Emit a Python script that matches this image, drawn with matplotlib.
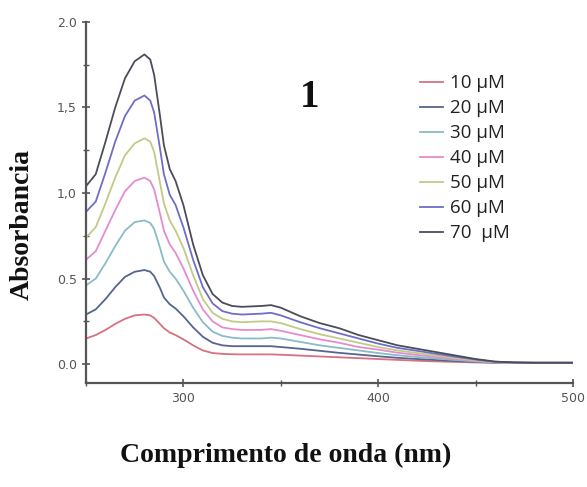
import matplotlib
matplotlib.use("Agg")
import matplotlib.pyplot as plt
from matplotlib.ticker import FixedLocator, MultipleLocator

# Wavelength grid (nm)
wavelength = [250, 255, 260, 265, 270, 275, 280, 283, 285, 288, 290, 293, 296, 300,
              305, 310, 315, 320, 325, 330, 340, 345, 350, 360, 370, 380, 390, 400,
              410, 420, 430, 440, 450, 460, 470, 480, 490, 500]

# Absorbance spectra for each concentration
abs_10 = [0.15, 0.17, 0.20, 0.235, 0.265, 0.285, 0.29, 0.285, 0.27, 0.235, 0.21, 0.185,
          0.17, 0.145, 0.11, 0.08, 0.065, 0.06, 0.058, 0.057, 0.057, 0.057, 0.055, 0.05,
          0.045, 0.04, 0.035, 0.03, 0.025, 0.02, 0.016, 0.013, 0.01, 0.008, 0.008, 0.008,
          0.008, 0.008]
abs_20 = [0.29, 0.32, 0.38, 0.45, 0.51, 0.54, 0.55, 0.54, 0.515, 0.445, 0.39, 0.35,
          0.325, 0.28, 0.215, 0.16, 0.125, 0.11, 0.105, 0.105, 0.105, 0.105, 0.10, 0.09,
          0.078, 0.066, 0.056, 0.046, 0.037, 0.03, 0.024, 0.018, 0.013, 0.009, 0.008,
          0.008, 0.008, 0.008]
abs_30 = [0.46, 0.50, 0.59, 0.69, 0.78, 0.83, 0.84, 0.825, 0.79, 0.68, 0.60, 0.54,
          0.50, 0.43, 0.33, 0.245, 0.19, 0.165, 0.155, 0.15, 0.15, 0.155, 0.15, 0.13,
          0.11, 0.095, 0.08, 0.065, 0.052, 0.042, 0.033, 0.024, 0.016, 0.01, 0.008,
          0.008, 0.008, 0.008]
abs_40 = [0.61, 0.66, 0.78, 0.90, 1.01, 1.07, 1.09, 1.07, 1.02, 0.88, 0.78, 0.70,
          0.65, 0.56, 0.43, 0.32, 0.25, 0.215, 0.205, 0.20, 0.20, 0.205, 0.195, 0.17,
          0.145, 0.125, 0.10, 0.085, 0.067, 0.054, 0.042, 0.03, 0.02, 0.011, 0.008,
          0.008, 0.008, 0.008]
abs_50 = [0.74, 0.80, 0.94, 1.09, 1.22, 1.29, 1.32, 1.30, 1.24, 1.06, 0.94, 0.84,
          0.78, 0.68, 0.52, 0.38, 0.30, 0.265, 0.25, 0.245, 0.25, 0.25, 0.24, 0.205,
          0.175, 0.15, 0.125, 0.10, 0.08, 0.065, 0.05, 0.036, 0.023, 0.012, 0.009,
          0.008, 0.008, 0.008]
abs_60 = [0.89, 0.95, 1.12, 1.30, 1.45, 1.54, 1.57, 1.54, 1.47, 1.26, 1.11, 0.99,
          0.93, 0.80, 0.61, 0.45, 0.355, 0.31, 0.295, 0.29, 0.295, 0.30, 0.285, 0.245,
          0.21, 0.18, 0.15, 0.12, 0.095, 0.078, 0.06, 0.043, 0.027, 0.014, 0.01,
          0.008, 0.008, 0.008]
abs_70 = [1.04, 1.11, 1.30, 1.50, 1.67, 1.77, 1.81, 1.78, 1.69, 1.45, 1.28, 1.14,
          1.07, 0.93, 0.70, 0.52, 0.41, 0.36, 0.34, 0.335, 0.34, 0.345, 0.33, 0.28,
          0.24, 0.21, 0.17, 0.14, 0.11, 0.09, 0.07, 0.05, 0.03, 0.015, 0.01, 0.008,
          0.008, 0.008]

series_labels = ["10 μM", "20 μM", "30 μM", "40 μM", "50 μM", "60 μM", "70  μM"]
series_values = [abs_10, abs_20, abs_30, abs_40, abs_50, abs_60, abs_70]
series_colors = ["#d8707e", "#56658f", "#88bcc6", "#e48ccf", "#c2ca86", "#6e6ec6", "#4c4c5a"]

x_ticks = [300, 400, 500]
y_ticks = [0.0, 0.5, 1.0, 1.5, 2.0]
y_tick_labels = ["0.0", "0.5", "1,0", "1,5", "2.0"]

fig = plt.figure(figsize=(5.87, 4.87), dpi=100)
ax = fig.add_axes([0.1465, 0.2136, 0.8295, 0.7414])

for vals, lab, col in zip(series_values, series_labels, series_colors):
    ax.plot(wavelength, vals, color=col, lw=1.3, label=lab, solid_joinstyle="round")

ax.set_xlim(250, 500)
ax.set_ylim(-0.11, 2.0)

for side in ("top", "right"):
    ax.spines[side].set_visible(False)
for side in ("left", "bottom"):
    ax.spines[side].set_color("#555555")
    ax.spines[side].set_linewidth(1.6)

ax.xaxis.set_major_locator(FixedLocator(x_ticks))
ax.xaxis.set_minor_locator(MultipleLocator(50))
ax.yaxis.set_major_locator(FixedLocator(y_ticks))
ax.yaxis.set_minor_locator(MultipleLocator(0.25))
ax.set_yticklabels(y_tick_labels)
ax.tick_params(which="major", direction="inout", length=6, width=1.2, color="#555555",
               labelsize=9, labelcolor="#555555")
ax.tick_params(which="minor", direction="inout", length=4, width=1.0, color="#555555")
for lbl in ax.get_xticklabels() + ax.get_yticklabels():
    lbl.set_family("DejaVu Sans")

ax.set_xlabel("Comprimento de onda (nm)", family="Liberation Serif", fontweight="bold",
              fontsize=20, color="#111111")
ax.xaxis.set_label_coords(0.41, -0.167)
ax.set_ylabel("Absorbancia", family="Liberation Serif", fontweight="bold",
              fontsize=20, color="#111111")
ax.yaxis.set_label_coords(-0.105, 0.44)

ax.text(0.46, 0.792, "1", transform=ax.transAxes, family="Liberation Serif",
        fontweight="bold", fontsize=28, color="#111111", ha="center", va="center")

leg = ax.legend(loc="upper left", bbox_to_anchor=(0.686, 0.855), frameon=False,
                handlelength=1.2, handletextpad=0.4, labelspacing=0.375,
                borderaxespad=0.0, borderpad=0.0,
                prop={"family": "Open Sans", "size": 13.5})
for t in leg.get_texts():
    t.set_color("#222222")

fig.savefig("out.png", dpi=100)
